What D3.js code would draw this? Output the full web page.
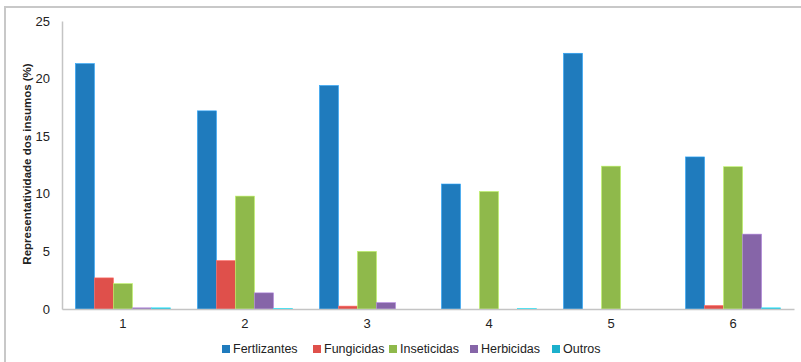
<!DOCTYPE html>
<html>
<head>
<meta charset="utf-8">
<script src="https://cdn.jsdelivr.net/npm/d3@7"></script>
<style>
  html, body { margin: 0; padding: 0; background: #fff; }
  svg { display: block; font-family: "Liberation Sans", Arial, sans-serif; }
</style>
</head>
<body>
<svg id="chart" width="801" height="362"></svg>
<script>
// Categories (x axis) and series names
const categories = ["1", "2", "3", "4", "5", "6"];
const seriesNames = ["Fertlizantes", "Fungicidas", "Inseticidas", "Herbicidas", "Outros"];
const seriesColors = ["#1f7bbd", "#df504b", "#8fb94b", "#8665a8", "#1cb0cc"];

// Share of each input per category (%)
const fertlizantes = [21.3, 17.2, 19.4, 10.85, 22.2, 13.2];
const fungicidas   = [2.7, 4.2, 0.25, 0, 0, 0.3];
const inseticidas  = [2.2, 9.8, 5.0, 10.2, 12.4, 12.35];
const herbicidas   = [0.1, 1.4, 0.55, 0, 0, 6.5];
const outros       = [0.1, 0.05, 0, 0.03, 0, 0.1];

const yTicks = [0, 5, 10, 15, 20, 25];
const yTitle = "Representatividade dos insumos (%)";

const seriesValues = [fertlizantes, fungicidas, inseticidas, herbicidas, outros];
const rows = categories.map((c, i) => ({
  cat: c,
  values: seriesNames.map((s, j) => ({ key: s, value: seriesValues[j][i], color: seriesColors[j] }))
}));

const svg = d3.select("#chart");

// Outer frame
svg.append("rect")
  .attr("x", 5).attr("y", 7)
  .attr("width", 820).attr("height", 400)
  .attr("fill", "none")
  .attr("stroke", "#c8c8c8")
  .attr("stroke-width", 2);

const plotLeft = 62, plotRight = 794, plotTop = 21, plotBottom = 309;

const x0 = d3.scaleBand()
  .domain(categories)
  .range([plotLeft, plotRight])
  .paddingInner(0.221)
  .paddingOuter(0.11);

const x1 = d3.scaleBand()
  .domain(seriesNames)
  .range([0, x0.bandwidth()]);

const y = d3.scaleLinear().domain([0, 25]).range([plotBottom, plotTop]);

// Bars
const groups = svg.append("g").selectAll("g")
  .data(rows).join("g")
  .attr("transform", d => `translate(${x0(d.cat)},0)`);

groups.selectAll("rect")
  .data(d => d.values.filter(v => v.value > 0))
  .join("rect")
  .attr("x", d => x1(d.key))
  .attr("y", d => y(d.value))
  .attr("width", x1.bandwidth())
  .attr("height", d => y(0) - y(d.value))
  .attr("fill", d => d.color)
  .attr("stroke", d => d3.color(d.color).brighter(0.8))
  .attr("stroke-width", 0.6);

// Y axis (line and labels)
const yAxis = svg.append("g")
  .attr("transform", `translate(${plotLeft},0)`)
  .call(d3.axisLeft(y).tickValues(yTicks).tickSize(0).tickPadding(12));
yAxis.select(".domain").attr("stroke", "#c4c4c4").attr("stroke-width", 1.5);
yAxis.selectAll("text").attr("font-size", 13).attr("fill", "#222");

// X axis
const xAxis = svg.append("g")
  .attr("transform", `translate(0,${plotBottom})`)
  .call(d3.axisBottom(x0).tickSize(0).tickPadding(10).tickSizeOuter(0));
xAxis.select(".domain").attr("stroke", "#c4c4c4").attr("stroke-width", 1.5);
xAxis.selectAll("text").attr("font-size", 13).attr("fill", "#222");

// Y axis title
svg.append("text")
  .attr("transform", `translate(31,164) rotate(-90)`)
  .attr("text-anchor", "middle")
  .attr("font-size", 11.5)
  .attr("font-weight", "bold")
  .attr("fill", "#222")
  .text(yTitle);

// Legend
const legendX = [222, 313, 389, 470, 552];
const legend = svg.append("g").selectAll("g")
  .data(seriesNames).join("g")
  .attr("transform", (d, i) => `translate(${legendX[i]},349)`);
legend.append("rect")
  .attr("x", 0).attr("y", -4)
  .attr("width", 8).attr("height", 8)
  .attr("fill", (d, i) => seriesColors[i]);
legend.append("text")
  .attr("x", 11).attr("y", 0)
  .attr("dy", "0.35em")
  .attr("font-size", 12.5)
  .attr("fill", "#222")
  .text(d => d);
</script>
</body>
</html>
